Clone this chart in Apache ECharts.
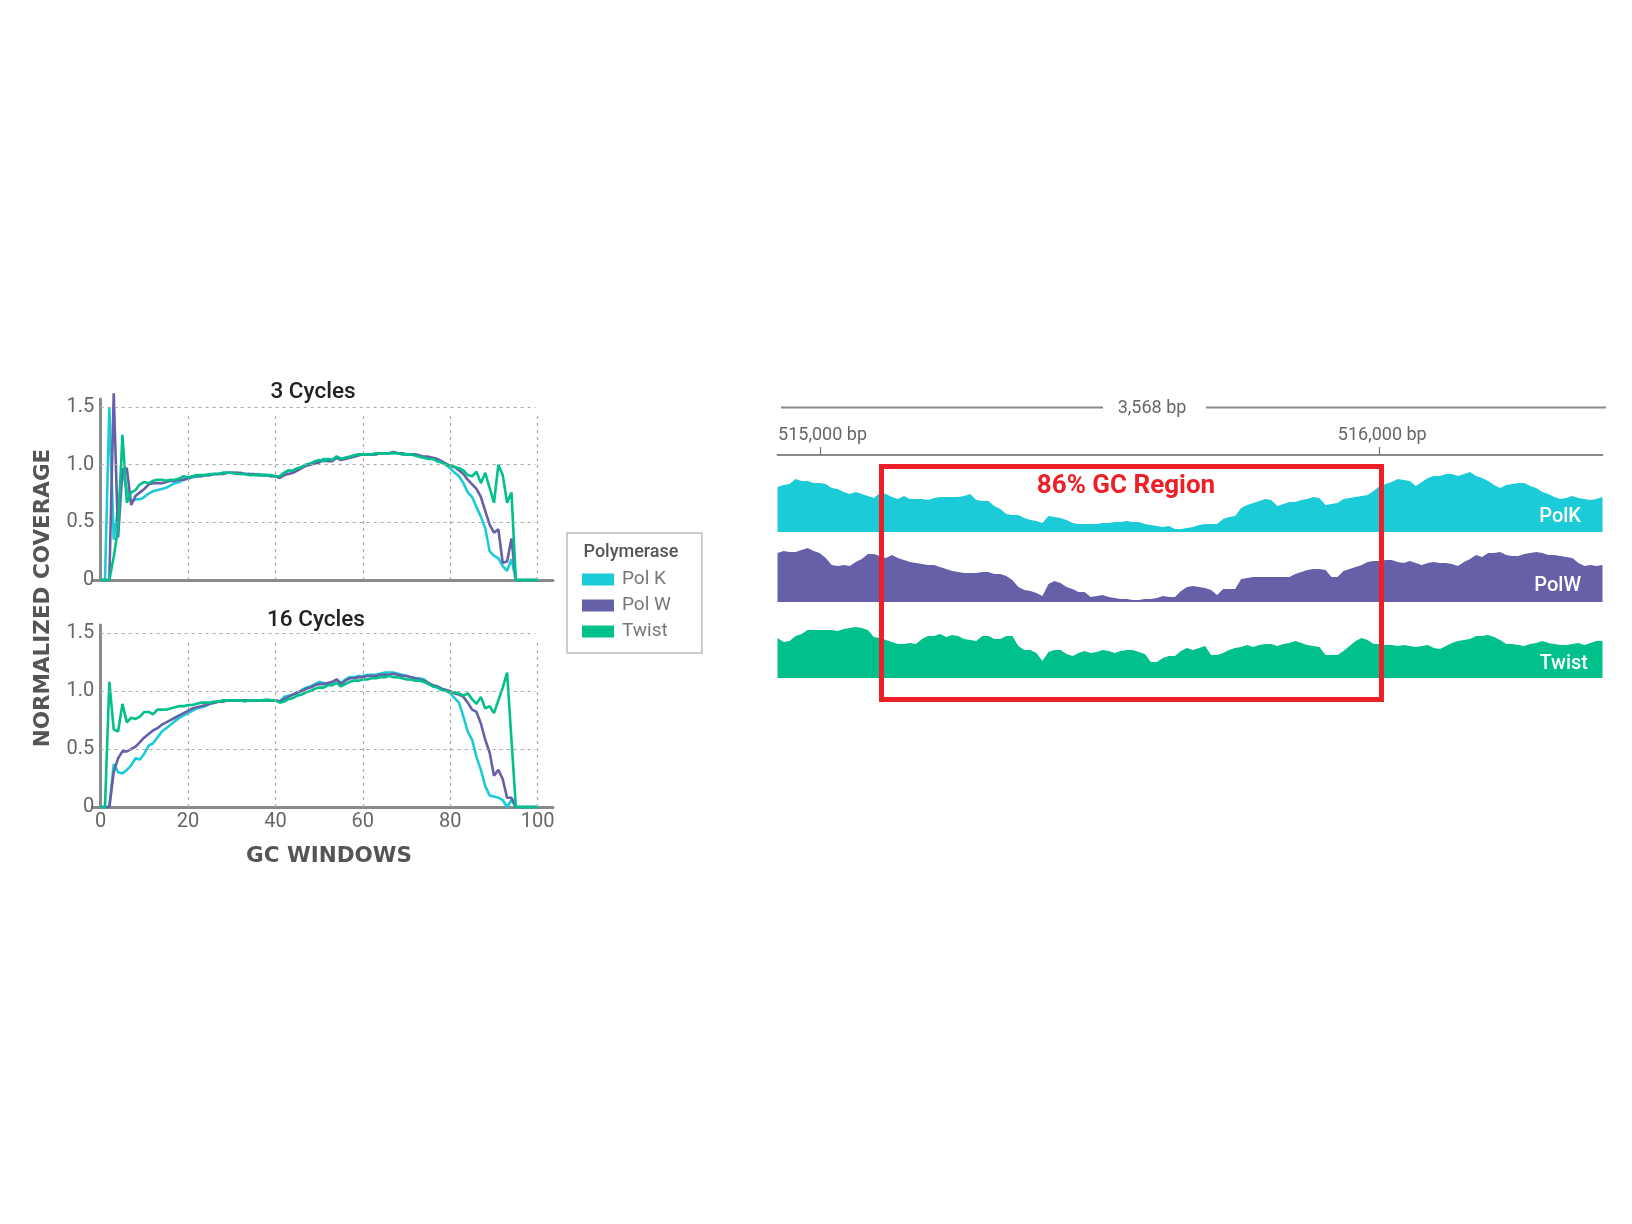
<!DOCTYPE html>
<html>
<head>
<meta charset="utf-8">
<title>GC coverage</title>
<script src="https://cdn.jsdelivr.net/npm/echarts@6/dist/echarts.min.js"></script>
<style>
html, body { margin: 0; padding: 0; background: #fff; }
#chart { width: 1632px; height: 1224px; }
</style>
</head>
<body>
<div id="chart"></div>
<script>
// normalized coverage per GC window (0..100), 3 cycles
var polK3 = [0,0,1.5,.35,.62,.95,.78,.68,.70,.70,
	.72,.75,.77,.78,.79,.80,.82,.84,.85,.87,
	.88,.89,.90,.90,.91,.91,.92,.92,.93,.93,
	.93,.93,.92,.92,.92,.91,.92,.91,.91,.90,
	.90,.90,.93,.95,.94,.96,.98,1.0,1.01,1.02,
	1.03,1.05,1.05,1.04,1.07,1.05,1.06,1.07,1.08,1.09,
	1.09,1.09,1.09,1.09,1.10,1.10,1.10,1.105,1.10,1.09,
	1.09,1.09,1.08,1.07,1.06,1.06,1.05,1.04,1.02,1.0,
	.97,.93,.90,.84,.76,.72,.63,.55,.45,.25,
	.21,.19,.12,.08,.18,0,0,0,0,0,0];
var polW3 = [0,0,0,1.62,.37,.96,.97,.65,.73,.76,
	.79,.83,.84,.84,.84,.85,.86,.86,.87,.87,
	.88,.90,.90,.90,.91,.91,.92,.92,.92,.93,
	.93,.93,.93,.92,.92,.92,.91,.91,.91,.90,
	.90,.885,.91,.92,.93,.95,.97,.99,1.0,1.01,
	1.02,1.04,1.03,1.03,1.06,1.04,1.05,1.06,1.07,1.08,
	1.09,1.09,1.09,1.09,1.10,1.10,1.10,1.11,1.10,1.10,
	1.09,1.09,1.09,1.08,1.07,1.07,1.06,1.05,1.03,1.01,
	.99,.98,.95,.92,.87,.83,.79,.72,.60,.48,
	.41,.44,.15,.16,.36,0,0,0,0,0,0];
var twist3 = [0,0,0,.2,.45,1.26,.67,.76,.78,.83,
	.85,.84,.86,.87,.87,.86,.87,.87,.88,.90,
	.89,.90,.91,.91,.91,.92,.92,.92,.93,.93,
	.93,.92,.92,.92,.91,.91,.91,.91,.91,.91,
	.90,.90,.93,.95,.95,.97,.98,1.0,1.01,1.03,
	1.04,1.03,1.05,1.04,1.07,1.05,1.06,1.07,1.08,1.09,
	1.09,1.09,1.09,1.10,1.10,1.10,1.10,1.10,1.10,1.09,
	1.09,1.09,1.08,1.07,1.06,1.05,1.05,1.03,1.02,1.0,
	.99,.98,.97,.95,.91,.90,.94,.84,.93,.80,
	.67,1.0,.91,.67,.76,0,0,0,0,0,0];

// 16 cycles
var polK16 = [0,0,0,.37,.30,.29,.32,.36,.42,.41,
	.46,.53,.55,.60,.65,.68,.71,.74,.77,.79,
	.81,.83,.85,.86,.87,.89,.90,.91,.91,.92,
	.92,.92,.92,.92,.92,.92,.92,.92,.93,.92,
	.92,.91,.95,.96,.97,.98,1.01,1.03,1.04,1.06,
	1.08,1.07,1.06,1.07,1.10,1.07,1.10,1.12,1.12,1.13,
	1.13,1.14,1.14,1.14,1.15,1.16,1.16,1.16,1.15,1.14,
	1.13,1.12,1.11,1.11,1.10,1.07,1.05,1.04,1.02,1.01,
	.98,.94,.90,.78,.65,.58,.43,.32,.18,.10,
	.09,.08,.06,0,.06,0,0,0,0,0,0];
var polW16 = [0,0,0,.30,.42,.48,.48,.50,.52,.56,
	.60,.63,.66,.68,.71,.73,.75,.77,.79,.81,
	.83,.85,.86,.87,.88,.89,.90,.91,.91,.92,
	.92,.92,.92,.92,.92,.92,.92,.92,.92,.92,
	.92,.91,.93,.95,.97,.99,1.0,1.02,1.03,1.05,
	1.06,1.06,1.07,1.08,1.10,1.06,1.09,1.11,1.11,1.12,
	1.12,1.13,1.13,1.13,1.14,1.14,1.14,1.15,1.14,1.13,
	1.13,1.12,1.11,1.10,1.09,1.07,1.05,1.04,1.02,1.01,
	1.0,.98,.97,.95,.90,.84,.82,.72,.58,.47,
	.27,.32,.24,.08,.08,0,0,0,0,0,0];
var twist16 = [0,0,1.08,.67,.65,.89,.73,.77,.76,.78,
	.82,.82,.80,.84,.84,.84,.85,.86,.87,.87,
	.88,.88,.89,.90,.90,.90,.91,.91,.92,.92,
	.92,.92,.92,.91,.92,.92,.92,.92,.92,.92,
	.92,.90,.91,.93,.94,.96,.97,.99,1.0,1.02,
	1.03,1.03,1.05,1.05,1.07,1.04,1.06,1.08,1.09,1.09,
	1.10,1.10,1.11,1.11,1.12,1.12,1.13,1.12,1.12,1.11,
	1.10,1.10,1.09,1.09,1.08,1.06,1.04,1.03,1.01,1.0,
	.99,.99,.98,.96,.98,.93,.89,.95,.85,.87,
	.81,.92,1.03,1.16,.58,0,0,0,0,0,0];

// genome tracks, read height along the region
var trackK = [45,47,48,53,51,51,49,49,48,44,43,40,38,40,38,36,34,39,38,35,
	33,36,33,33,33,32,34,35,35,35,35,36,38,32,31,31,26,23,18,17,
	17,14,12,11,9,16,15,14,12,9,8,8,8,8,9,9,10,10,11,10,
	10,8,7,6,5,6,3,3,4,5,7,8,8,8,13,15,16,24,27,29,
	31,33,32,26,28,30,30,32,33,35,34,27,28,29,33,34,35,36,37,41,
	46,48,50,53,52,51,46,50,54,56,56,58,58,56,58,60,56,54,51,47,
	44,47,48,49,49,46,44,40,38,35,33,34,36,34,33,32,33,35];
var trackW = [49,51,50,50,52,54,51,49,44,37,36,37,36,40,43,48,48,46,44,47,
	44,42,40,39,38,37,37,35,33,31,30,29,29,29,30,30,28,28,26,22,
	15,12,11,9,6,18,21,19,15,13,10,10,5,6,7,5,4,3,3,2,
	2,3,3,4,6,5,5,11,15,16,15,14,12,7,13,13,13,23,24,25,
	25,25,25,25,25,25,28,30,32,33,33,32,25,25,31,33,35,37,40,41,
	41,42,42,40,39,41,39,37,39,40,39,39,38,36,40,43,47,45,49,49,
	50,47,46,46,48,49,50,49,47,47,46,45,44,39,36,37,36,37];
var trackT = [40,36,37,42,44,48,48,48,48,48,47,49,50,51,50,48,41,40,38,36,
	34,34,35,34,39,42,42,44,41,43,42,39,38,37,42,42,39,39,42,42,
	32,28,28,25,17,26,28,28,24,22,25,27,25,26,28,27,25,27,28,28,
	26,24,16,16,20,22,22,27,30,28,30,32,23,23,25,28,30,31,33,31,
	33,34,34,32,34,35,37,35,33,32,31,23,23,23,27,32,37,40,38,34,
	34,33,33,32,33,32,31,32,33,30,29,32,35,37,38,39,42,42,43,41,
	38,34,34,33,32,34,35,37,35,34,33,33,34,35,33,35,37,37];

var xTicks = [0, 20, 40, 60, 80, 100];
var yTicks = [0, 0.5, 1, 1.5];
var rulerTicks = [515000, 516000];
var spanLabel = '3,568 bp';

var CYAN = '#1ccbd8', PURPLE = '#6660a9', GREEN = '#00c08b';
var FONT = 'Roboto';
var AXIS = '#8a8a8a', LABEL = '#666666';

var dom = document.getElementById('chart');
var myChart = echarts.init(dom);

function pairs(arr) {
	return arr.map(function (v, i) { return [i, v]; });
}

function gridLines() {
	var out = [];
	xTicks.slice(1).forEach(function (x) {
		out.push([{ xAxis: x, yAxis: 0 }, { xAxis: x, yAxis: 1.42 }]);
	});
	yTicks.slice(1).forEach(function (y) {
		out.push([{ xAxis: 0, yAxis: y }, { xAxis: 99.5, yAxis: y }]);
	});
	return out;
}

function lineSeries(name, color, arr, idx, withGrid) {
	var s = {
		name: name,
		type: 'line',
		xAxisIndex: idx,
		yAxisIndex: idx,
		data: pairs(arr),
		symbol: 'none',
		clip: false,
		lineStyle: { color: color, width: 2.6 },
		itemStyle: { color: color }
	};
	if (withGrid) {
		s.markLine = {
			silent: true,
			symbol: 'none',
			animation: false,
			label: { show: false },
			lineStyle: { color: '#a8a8a8', type: [3, 4], width: 1.2 },
			data: gridLines()
		};
	}
	return s;
}

function trackSeries(name, color, arr, idx) {
	return {
		name: name,
		type: 'line',
		xAxisIndex: idx,
		yAxisIndex: idx,
		data: arr,
		symbol: 'none',
		lineStyle: { width: 0 },
		itemStyle: { color: color },
		areaStyle: { color: color, opacity: 1 }
	};
}

function plotX(showLabels) {
	return {
		type: 'value',
		min: -1.9,
		max: 103.5,
		splitLine: { show: false },
		axisTick: { show: false },
		axisLine: { lineStyle: { color: AXIS, width: 3 } },
		axisLabel: {
			show: showLabels,
			customValues: xTicks,
			fontFamily: FONT,
			fontSize: 20,
			color: LABEL,
			margin: 5
		}
	};
}

function plotY() {
	return {
		type: 'value',
		min: 0,
		max: 1.57,
		splitLine: { show: false },
		axisTick: { show: false },
		axisLine: { show: true, onZero: true, lineStyle: { color: AXIS, width: 3 } },
		axisLabel: {
			customValues: yTicks,
			fontFamily: FONT,
			fontSize: 20,
			color: LABEL,
			margin: -2,
			formatter: function (v) { return v === 0 ? '0' : v.toFixed(1); }
		}
	};
}

function trackAxisX(n) {
	return {
		type: 'category',
		boundaryGap: false,
		data: n,
		show: false
	};
}

var trackIdx = trackK.map(function (v, i) { return i; });

var option = {
	animation: false,
	backgroundColor: '#ffffff',
	title: [
		{ text: '3 Cycles', left: 308, top: 376, textAlign: 'center',
			textStyle: { fontFamily: FONT, fontSize: 22.5, fontWeight: 500, color: '#222' } },
		{ text: '16 Cycles', left: 311, top: 604, textAlign: 'center',
			textStyle: { fontFamily: FONT, fontSize: 22.5, fontWeight: 500, color: '#222' } },
		{ text: 'Polymerase', left: 626, top: 538, textAlign: 'center',
			textStyle: { fontFamily: FONT, fontSize: 18, fontWeight: 500, color: '#555' } }
	],
	legend: {
		data: ['Pol K', 'Pol W', 'Twist'],
		orient: 'vertical',
		left: 567,
		top: 533,
		icon: 'rect',
		itemWidth: 32,
		itemHeight: 12,
		itemGap: 7,
		padding: [37, 31, 12, 15],
		borderColor: '#bdbdbd',
		borderWidth: 1.5,
		selectedMode: false,
		textStyle: { fontFamily: FONT, fontSize: 19, color: '#777', padding: [0, 0, 0, 3] }
	},
	grid: [
		{ left: 92.3, width: 460.7, top: 399, height: 181 },
		{ left: 92.3, width: 460.7, top: 625, height: 182 },
		{ left: 777.5, width: 825, top: 432, height: 100 },
		{ left: 777.5, width: 825, top: 502, height: 100 },
		{ left: 777.5, width: 825, top: 578, height: 100 },
		{ left: 777.5, width: 825, top: 455, height: 10 }
	],
	xAxis: [
		Object.assign(plotX(false), { gridIndex: 0 }),
		Object.assign(plotX(true), { gridIndex: 1 }),
		Object.assign(trackAxisX(trackIdx), { gridIndex: 2 }),
		Object.assign(trackAxisX(trackIdx), { gridIndex: 3 }),
		Object.assign(trackAxisX(trackIdx), { gridIndex: 4 }),
		{
			gridIndex: 5,
			type: 'value',
			position: 'top',
			min: 514924,
			max: 516398,
			splitLine: { show: false },
			axisLine: { onZero: false, lineStyle: { color: '#8a8a8a', width: 2 } },
			axisTick: { customValues: rulerTicks, length: 8, lineStyle: { color: '#777', width: 1.2 } },
			axisLabel: {
				customValues: rulerTicks,
				fontFamily: FONT,
				fontSize: 18,
				color: LABEL,
				margin: 11,
				padding: [0, 0, 0, 5],
				formatter: function (v) { return v.toLocaleString('en-US') + ' bp'; }
			}
		}
	],
	yAxis: [
		Object.assign(plotY(), { gridIndex: 0 }),
		Object.assign(plotY(), { gridIndex: 1 }),
		{ gridIndex: 2, type: 'value', min: 0, max: 100, show: false },
		{ gridIndex: 3, type: 'value', min: 0, max: 100, show: false },
		{ gridIndex: 4, type: 'value', min: 0, max: 100, show: false },
		{ gridIndex: 5, type: 'value', min: 0, max: 1, show: false }
	],
	series: [
		lineSeries('Pol K', CYAN, polK3, 0, true),
		lineSeries('Pol W', PURPLE, polW3, 0),
		lineSeries('Twist', GREEN, twist3, 0),
		lineSeries('Pol K', CYAN, polK16, 1, true),
		lineSeries('Pol W', PURPLE, polW16, 1),
		lineSeries('Twist', GREEN, twist16, 1),
		trackSeries('PolK', CYAN, trackK, 2),
		trackSeries('PolW', PURPLE, trackW, 3),
		trackSeries('Twist track', GREEN, trackT, 4)
	],
	graphic: [
		{ type: 'text', x: 43, y: 598, rotation: Math.PI / 2, originX: 0, originY: 0, z: 10,
			style: { text: 'NORMALIZED COVERAGE', fontFamily: 'DejaVu Sans', fontWeight: 'bold', fontSize: 21.5,
				fill: '#555', textAlign: 'center', textVerticalAlign: 'middle' } },
		{ type: 'text', x: 329, y: 856, z: 10,
			style: { text: 'GC WINDOWS', fontFamily: 'DejaVu Sans', fontWeight: 'bold', fontSize: 21.5,
				fill: '#555', textAlign: 'center', textVerticalAlign: 'middle' } },
		{ type: 'line', z: 10, shape: { x1: 781, y1: 407.5, x2: 1103, y2: 407.5 }, style: { stroke: '#8a8a8a', lineWidth: 2 } },
		{ type: 'line', z: 10, shape: { x1: 1206, y1: 407.5, x2: 1606, y2: 407.5 }, style: { stroke: '#8a8a8a', lineWidth: 2 } },
		{ type: 'text', x: 1152, y: 408, z: 10,
			style: { text: spanLabel, fontFamily: FONT, fontSize: 18, fill: LABEL, textAlign: 'center', textVerticalAlign: 'middle' } },
		{ type: 'rect', z: 20, shape: { x: 881.5, y: 466.5, width: 500, height: 233 },
			style: { fill: 'none', stroke: '#ed2027', lineWidth: 5 } },
		{ type: 'text', x: 1126, y: 486, z: 21,
			style: { text: '86% GC Region', fontFamily: FONT, fontWeight: 'bold', fontSize: 26, fill: '#ed2027', textAlign: 'center', textVerticalAlign: 'middle' } },
		{ type: 'text', x: 1581, y: 517, z: 21,
			style: { text: 'PolK', fontFamily: FONT, fontWeight: 500, fontSize: 20, fill: '#fff', textAlign: 'right', textVerticalAlign: 'middle' } },
		{ type: 'text', x: 1581, y: 586, z: 21,
			style: { text: 'PolW', fontFamily: FONT, fontWeight: 500, fontSize: 20, fill: '#fff', textAlign: 'right', textVerticalAlign: 'middle' } },
		{ type: 'text', x: 1588, y: 664, z: 21,
			style: { text: 'Twist', fontFamily: FONT, fontWeight: 500, fontSize: 20, fill: '#fff', textAlign: 'right', textVerticalAlign: 'middle' } }
	]
};

myChart.setOption(option);
</script>
</body>
</html>
